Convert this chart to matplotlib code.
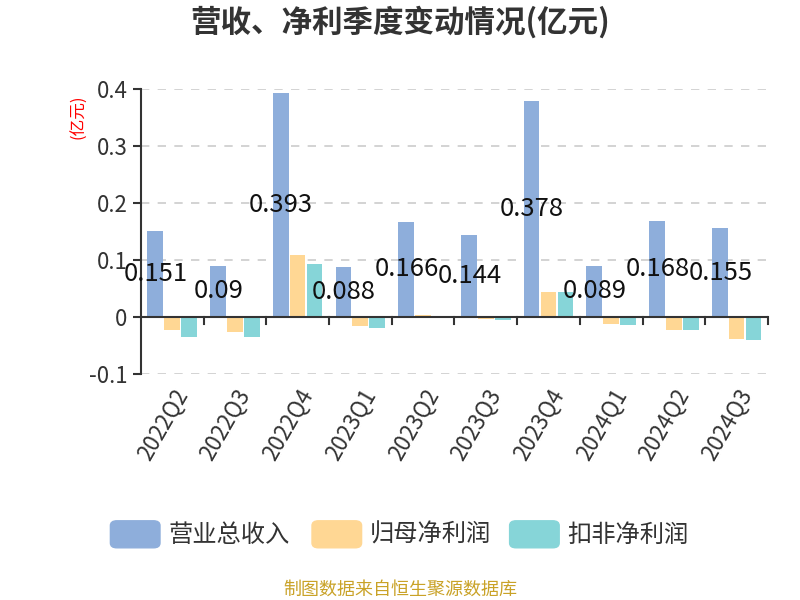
import matplotlib
matplotlib.use("Agg")
import matplotlib.pyplot as plt
from matplotlib.patches import FancyBboxPatch
import numpy as np

plt.rcParams['font.family'] = ['Noto Sans CJK SC', 'DejaVu Sans']

quarters = ['2022Q2', '2022Q3', '2022Q4', '2023Q1', '2023Q2',
            '2023Q3', '2023Q4', '2024Q1', '2024Q2', '2024Q3']
revenue = [0.151, 0.09, 0.393, 0.088, 0.166, 0.144, 0.378, 0.089, 0.168, 0.155]
net_profit = [-0.023, -0.027, 0.109, -0.016, 0.003, -0.004, 0.044, -0.013, -0.023, -0.039]
net_profit_adj = [-0.036, -0.036, 0.092, -0.020, -0.001, -0.005, 0.044, -0.014, -0.024, -0.040]
series_names = ['营业总收入', '归母净利润', '扣非净利润']
colors = ['#8eaedb', '#ffd794', '#86d5d8']

fig = plt.figure(figsize=(8, 6), dpi=100)
ax = fig.add_axes([0.176, 0.377, 0.784, 0.475])

x = np.arange(len(quarters))
w = 0.25
for i, (vals, c) in enumerate(zip([revenue, net_profit, net_profit_adj], colors)):
    ax.bar(x + (i - 1) * 0.27, vals, w, color=c, zorder=3)

for xi, v in zip(x, revenue):
    ax.text(xi - 0.26, v / 2, f'{v:g}', ha='center', va='center',
            fontsize=18.5, color='#111111', zorder=5)

ax.set_xlim(-0.5, len(quarters) - 0.5)
ax.set_ylim(-0.1, 0.4)
ax.set_yticks([-0.1, 0, 0.1, 0.2, 0.3, 0.4])
ax.set_yticklabels(['-0.1', '0', '0.1', '0.2', '0.3', '0.4'])
ax.yaxis.grid(True, linestyle=(0, (5, 5)), color='#cccccc', linewidth=1.2, zorder=0)

for s in ['top', 'right', 'bottom']:
    ax.spines[s].set_visible(False)
ax.spines['left'].set_color('#333333')
ax.spines['left'].set_linewidth(1.5)
ax.axhline(0, color='#333333', linewidth=1.5, zorder=4)

ax.tick_params(axis='y', labelsize=16, colors='#333333', length=6, width=1.5)
ax.set_xticks(x)
ax.set_xticklabels(quarters, rotation=60, ha='right', rotation_mode='anchor',
                   fontsize=16, color='#333333')
ax.tick_params(axis='x', length=0, pad=8)
# category boundary ticks on the zero line
for b in np.arange(-0.5, len(quarters), 1.0)[1:]:
    ax.plot([b, b], [0, -0.012], color='#333333', linewidth=1.5, zorder=4, clip_on=False)

fig.text(0.098, 0.805, '(亿元)', rotation=90, color='red', fontsize=12,
         ha='center', va='center')

fig.text(0.5, 0.963, '营收、净利季度变动情况(亿元)', ha='center', va='center',
         fontsize=22, fontweight='bold', color='#333333')

# legend
legend_x = [0.138, 0.39, 0.637]
for lx, name, c in zip(legend_x, series_names, colors):
    fig.patches.append(FancyBboxPatch((lx, 0.087), 0.062, 0.045,
                                      boxstyle='round,pad=0,rounding_size=0.008',
                                      transform=fig.transFigure, color=c))
    fig.text(lx + 0.072, 0.109, name, ha='left', va='center', fontsize=17.5, color='#333333')

fig.text(0.5, 0.018, '制图数据来自恒生聚源数据库', ha='center', va='center',
         fontsize=13, color='#c9a227')

fig.savefig('out.png', dpi=100)
